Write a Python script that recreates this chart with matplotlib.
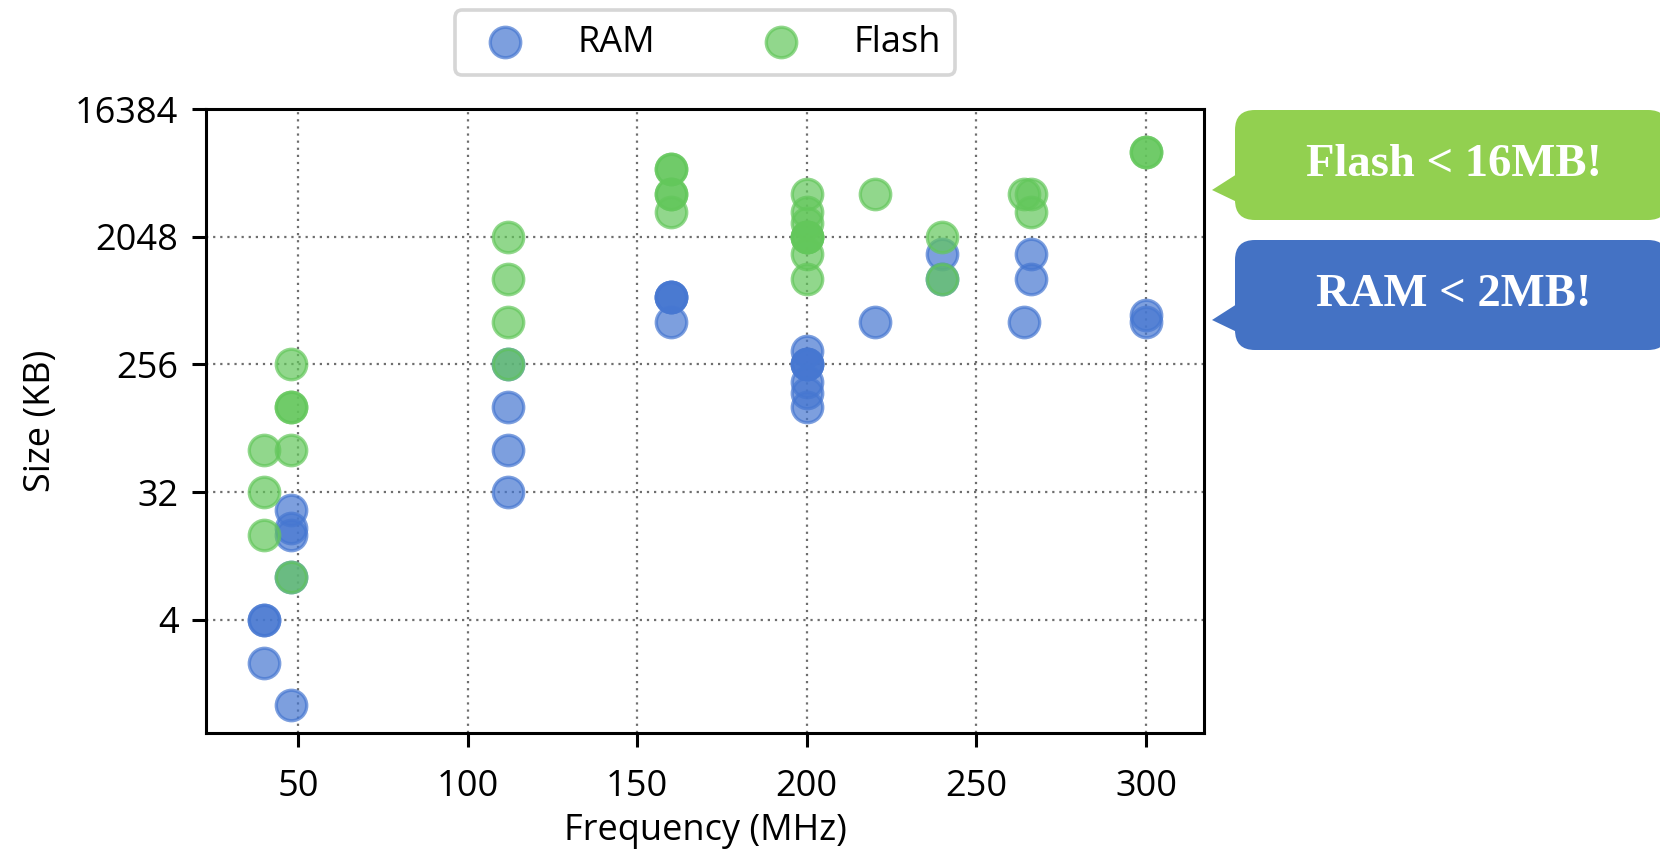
import matplotlib.pyplot as plt
from matplotlib.patches import FancyBboxPatch, Polygon

# RAM / Flash sizes (KB) vs clock frequency (MHz)
ram_freq = [40, 40, 40, 48, 48, 48, 48, 48, 112, 112, 112, 112,
            160, 160, 160, 160, 200, 200, 200, 200, 200, 200, 200,
            220, 240, 240, 264, 266, 266, 300, 300]
ram_kb = [4, 4, 2, 1, 16, 18, 24, 8, 256, 128, 64, 32,
          768, 768, 768, 512, 320, 256, 256, 256, 192, 160, 128,
          512, 1536, 1024, 512, 1536, 1024, 576, 512]

flash_freq = [40, 40, 40, 48, 48, 48, 48, 48, 112, 112, 112, 112,
              160, 160, 160, 160, 160, 200, 200, 200, 200, 200, 200, 200, 200,
              220, 240, 240, 264, 266, 266, 300, 300]
flash_kb = [64, 32, 16, 256, 128, 128, 64, 8, 2048, 1024, 512, 256,
            6144, 6144, 4096, 4096, 3072, 4096, 3072, 2560, 2048, 2048, 2048, 1536, 1024,
            4096, 2048, 1024, 4096, 4096, 3072, 8192, 8192]

y_ticks = [4, 32, 256, 2048, 16384]
x_ticks = [50, 100, 150, 200, 250, 300]

ram_color = "#4677d1"
flash_color = "#63c75b"

plt.rcParams["font.family"] = ["Open Sans", "DejaVu Sans"]

fig = plt.figure(figsize=(8.3, 4.275), dpi=200)
ax = fig.add_axes([0.1243, 0.1432, 0.6008, 0.7293])

ax.scatter(ram_freq, ram_kb, s=120, color=ram_color, alpha=0.7,
           linewidths=1.2, edgecolors=ram_color, label="RAM", zorder=3)
ax.scatter(flash_freq, flash_kb, s=120, color=flash_color, alpha=0.7,
           linewidths=1.2, edgecolors=flash_color, label="Flash", zorder=3)

ax.set_yscale("log", base=2)
ax.set_ylim(0.64, 16384)
ax.set_xlim(23, 317)
ax.set_yticks(y_ticks)
ax.set_yticklabels([str(v) for v in y_ticks])
ax.minorticks_off()
ax.set_xticks(x_ticks)

ax.grid(True, linestyle=(0, (1, 2.2)), color="#6e6e6e", linewidth=0.8)
ax.set_axisbelow(True)
for sp in ax.spines.values():
    sp.set_linewidth(1.1)
ax.tick_params(labelsize=13, length=5, width=1.1, pad=5)
ax.tick_params(axis="x", pad=8)

ax.set_xlabel("Frequency (MHz)", fontsize=13, labelpad=3)
ax.set_ylabel("Size (KB)", fontsize=13, labelpad=6)

leg = ax.legend(loc="lower center", bbox_to_anchor=(0.5, 1.025), ncol=2,
                fontsize=13, handlelength=2, handletextpad=1.0,
                columnspacing=2.5, borderpad=0.4, fancybox=True,
                framealpha=1, edgecolor="#d6d6d6")
leg.get_frame().set_linewidth(1.3)

# callout bubbles on the right
W, H = 1660.0, 855.0
bubbles = [("Flash < 16MB!", "#92d050", 110, 220, 190),
           ("RAM < 2MB!", "#4472c4", 240, 350, 320)]
for text, col, top, bot, tip in bubbles:
    x0, x1 = 1235, 1668
    box = FancyBboxPatch((x0 / W, 1 - bot / H), (x1 - x0) / W, (bot - top) / H,
                         boxstyle="round,pad=0,rounding_size=0.012",
                         transform=fig.transFigure, facecolor=col,
                         edgecolor="none", mutation_aspect=W / H)
    fig.add_artist(box)
    tail = Polygon([(1237 / W, 1 - (tip - 16) / H), (1212 / W, 1 - tip / H),
                    (1237 / W, 1 - (tip + 12) / H)],
                   closed=True, transform=fig.transFigure, facecolor=col,
                   edgecolor="none")
    fig.add_artist(tail)
    fig.text((1248 + 1660) / 2 / W, 1 - (top + bot) / 2 / H, text,
             ha="center", va="center", color="white", fontsize=16.8,
             fontweight="bold", family=["Liberation Serif", "DejaVu Serif"])

fig.savefig("out.png", dpi=200)
